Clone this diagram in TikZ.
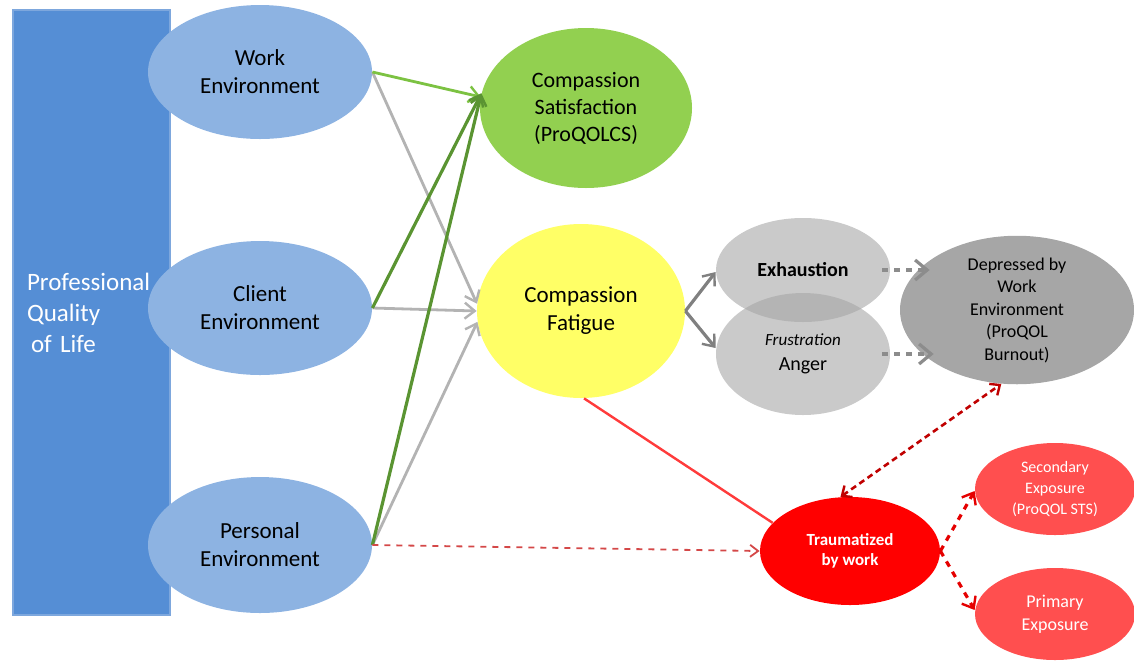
\documentclass[tikz,border=0pt]{standalone}
\usepackage{fontspec}
\setmainfont{Carlito}
\usetikzlibrary{shapes.geometric,arrows.meta}
\definecolor{qolblue}{HTML}{558ED5}
\definecolor{qoledge}{HTML}{7DA7DD}
\definecolor{envblue}{HTML}{8DB3E2}
\definecolor{csgreen}{HTML}{92D050}
\definecolor{cfyellow}{HTML}{FFFF66}
\definecolor{midgray}{HTML}{A6A6A6}
\definecolor{depgray}{HTML}{A6A6A6}
\definecolor{traured}{HTML}{FF0000}
\definecolor{expred}{HTML}{FF4F4F}
\definecolor{lightgreen}{HTML}{7CC242}
\definecolor{darkgreen}{HTML}{5A9432}
\definecolor{linegray}{HTML}{B3B3B3}
\definecolor{arrgray}{HTML}{808080}
\definecolor{dashgray}{HTML}{8C8C8C}
\definecolor{solidred}{HTML}{FF3B3B}
\definecolor{dashred}{HTML}{D44848}
\definecolor{darkred}{HTML}{C00000}
\definecolor{brightred}{HTML}{E50000}
\begin{document}
\begin{tikzpicture}[x=0.5pt,y=-0.5pt,
  oval/.style={ellipse,draw=none,inner sep=0pt,align=center},
  envtext/.style={font=\fontsize{11.5}{14}\selectfont},
  tip/.style={-{Straight Barb[length=5pt,width=8pt,line width=1.2pt]}},
  bigtip/.style={-{Straight Barb[length=6pt,width=10pt,line width=1.6pt]}},
  tipboth/.style={{Straight Barb[length=4pt,width=7pt,line width=1.2pt]}-{Straight Barb[length=4pt,width=7pt,line width=1.2pt]}},
]
\useasboundingbox (0,0) rectangle (1134,660);
% left bar
\node[rectangle,fill=qolblue,draw=qoledge,line width=1pt,minimum width=78.5pt,minimum height=302.5pt,
  inner sep=0pt,text width=64.5pt,align=left,text=white,font=\fontsize{12.5}{15.5}\selectfont]
  (qol) at (91.5,312.5) {Professional\\Quality\\\hspace*{2pt}of Life};
% environment ellipses
\node[oval,fill=envblue,minimum width=112pt,minimum height=67pt,envtext] (work) at (260,72) {Work\\Environment};
\node[oval,fill=envblue,minimum width=112pt,minimum height=67pt,envtext] (client) at (260,308) {Client\\Environment};
\node[oval,fill=envblue,minimum width=112pt,minimum height=68pt,envtext] (personal) at (260,545) {Personal\\Environment};
% compassion
\node[oval,fill=csgreen,minimum width=106pt,minimum height=80pt,font=\fontsize{11}{13.5}\selectfont] (cs) at (586,108) {Compassion\\Satisfaction\\(ProQOLCS)};
\node[oval,fill=cfyellow,minimum width=104pt,minimum height=87pt,font=\fontsize{11.5}{14}\selectfont] (cf) at (581,311) {Compassion\\Fatigue};
% exhaustion / frustration (overlapping, semi-transparent)
\node[oval,fill=midgray,fill opacity=0.6,text opacity=1,minimum width=87pt,minimum height=52pt,font=\fontsize{10}{12}\selectfont\bfseries] (exh) at (803,270) {Exhaustion};
\node[oval,fill=midgray,fill opacity=0.6,text opacity=1,minimum width=87pt,minimum height=61pt,font=\fontsize{10}{11.5}\selectfont] (fru) at (803,354) {\raisebox{1pt}{\fontsize{8.5}{9}\selectfont\itshape Frustration}\\Anger};
% burnout
\node[oval,fill=depgray,minimum width=117pt,minimum height=63pt,font=\fontsize{9}{11.25}\selectfont] (dep) at (1017,310) {Depressed by\\Work\\Environment\\(ProQOL\\Burnout)};
% trauma
\node[oval,fill=traured,text=white,minimum width=90pt,minimum height=54pt,font=\fontsize{8.5}{10}\selectfont\bfseries] (trau) at (850,551) {Traumatized\\by work};
\node[oval,fill=expred,text=white,minimum width=80pt,minimum height=46pt,font=\fontsize{8}{10.5}\selectfont] (sec) at (1055,489) {Secondary\\Exposure\\(ProQOL STS)};
\node[oval,fill=expred,text=white,minimum width=80pt,minimum height=46pt,font=\fontsize{9}{11.5}\selectfont] (pri) at (1055,614) {Primary\\Exposure};
% connectors to compassion satisfaction / fatigue
\draw[linegray,line width=1.4pt,tip] (work.east) -- (cf.176);
\draw[linegray,line width=1.4pt,tip] (client.east) -- (cf.180);
\draw[linegray,line width=1.4pt,tip] (personal.east) -- (cf.186);
\draw[lightgreen,line width=1.4pt,tip] (work.east) -- (cs.174);
\draw[darkgreen,line width=1.6pt,tip] (client.east) -- (cs.172);
\draw[darkgreen,line width=1.6pt,tip] (personal.east) -- (cs.172);
% personal -> trauma
\draw[dashred,line width=0.9pt,dashed,-{Straight Barb[length=4pt,width=6pt,line width=0.9pt]}] (personal.east) -- (trau.west);
% fatigue -> trauma
\draw[solidred,line width=1.2pt] (cf.272) -- (trau.160);
% fatigue -> exhaustion / frustration
\draw[arrgray,line width=1.6pt,tip] (cf.east) -- ([yshift=-1pt]exh.west);
\draw[arrgray,line width=1.6pt,tip] (cf.east) -- ([yshift=3pt]fru.west);
% to burnout
\draw[dashgray,line width=2.2pt,dashed,bigtip] ([xshift=-4pt]exh.east) -- ([xshift=15pt]dep.west |- exh.east);
\draw[dashgray,line width=2.2pt,dashed,bigtip] ([xshift=-4pt]fru.east) -- ([xshift=17pt]dep.west |- fru.east);
% burnout <-> trauma
\draw[darkred,line width=1.3pt,densely dashed,tipboth] (trau.100) -- (dep.258);
% trauma -> exposures
\draw[brightred,line width=1.6pt,dashed,tip] (trau.east) -- ([yshift=-1pt]sec.west);
\draw[brightred,line width=1.6pt,dashed,tip] (trau.east) -- ([yshift=2pt]pri.west);
\end{tikzpicture}
\end{document}
